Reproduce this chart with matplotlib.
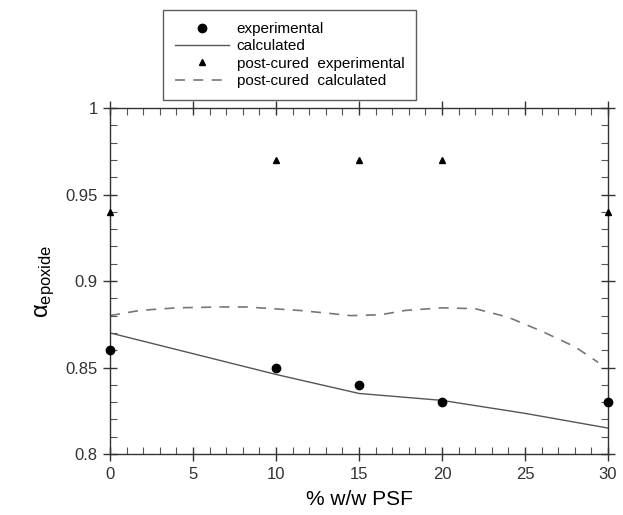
import matplotlib
matplotlib.use('Agg')
import matplotlib.pyplot as plt
from matplotlib.ticker import MultipleLocator

plt.rcParams['font.family'] = ['Liberation Sans', 'DejaVu Sans']

# measured points
exp_x = [0, 10, 15, 20, 30]
exp_y = [0.86, 0.85, 0.84, 0.83, 0.83]
post_exp_x = [0, 10, 15, 20, 30]
post_exp_y = [0.94, 0.97, 0.97, 0.97, 0.94]

# calculated curves
calc_x = [0, 5, 10, 15, 20, 25, 30]
calc_y = [0.870, 0.858, 0.846, 0.835, 0.831, 0.8235, 0.815]
post_calc_x = [0, 1.8, 4, 6.7, 8.2, 9.8, 11.4, 13, 14.5, 16.3, 17.8, 20, 22, 24, 26, 28, 29.4]
post_calc_y = [0.880, 0.883, 0.8845, 0.885, 0.885, 0.884, 0.883, 0.8815, 0.880, 0.8805,
               0.883, 0.8845, 0.884, 0.879, 0.871, 0.862, 0.853]

fig = plt.figure(figsize=(6.23, 5.15), dpi=100)
ax = fig.add_axes([0.1766, 0.1184, 0.7994, 0.6719])

l1, = ax.plot(exp_x, exp_y, 'o', color='black', markersize=6, clip_on=False, zorder=5)
l2, = ax.plot(calc_x, calc_y, '-', color='#555555', linewidth=1.0)
l3, = ax.plot(post_exp_x, post_exp_y, '^', color='black', markersize=5, clip_on=False, zorder=5)
l4, = ax.plot(post_calc_x, post_calc_y, '--', color='#777777', linewidth=1.2, dashes=(6, 5))

ax.set_xlim(0, 30)
ax.set_ylim(0.8, 1.0)
ax.xaxis.set_major_locator(MultipleLocator(5))
ax.xaxis.set_minor_locator(MultipleLocator(1))
ax.yaxis.set_major_locator(MultipleLocator(0.05))
ax.yaxis.set_minor_locator(MultipleLocator(0.01))
ax.set_yticks([0.8, 0.85, 0.9, 0.95, 1.0])
ax.set_yticklabels(['0.8', '0.85', '0.9', '0.95', '1'])

for s in ax.spines.values():
    s.set_color('#333333')
    s.set_linewidth(1.0)
ax.tick_params(which='major', direction='inout', length=10, width=1, color='#333333',
               top=True, right=True, labelsize=12, labelcolor='#333333', pad=4)
ax.tick_params(which='minor', direction='in', length=5, width=0.8, color='#555555',
               top=True, right=True)

ax.set_xlabel('% w/w PSF', fontsize=15, labelpad=6)
ax.set_ylabel(r'$\mathregular{\alpha_{epoxide}}$', fontsize=17, labelpad=6)

fig.legend([l1, l2, l3, l4],
           ['experimental', 'calculated', 'post-cured  experimental', 'post-cured  calculated'],
           loc='upper left', bbox_to_anchor=(0.262, 0.981), fontsize=11,
           frameon=True, fancybox=False, edgecolor='#333333', handlelength=3.5,
           labelspacing=0.22, borderpad=0.8, borderaxespad=0, handletextpad=0.5)

fig.savefig('out.png', dpi=100)
